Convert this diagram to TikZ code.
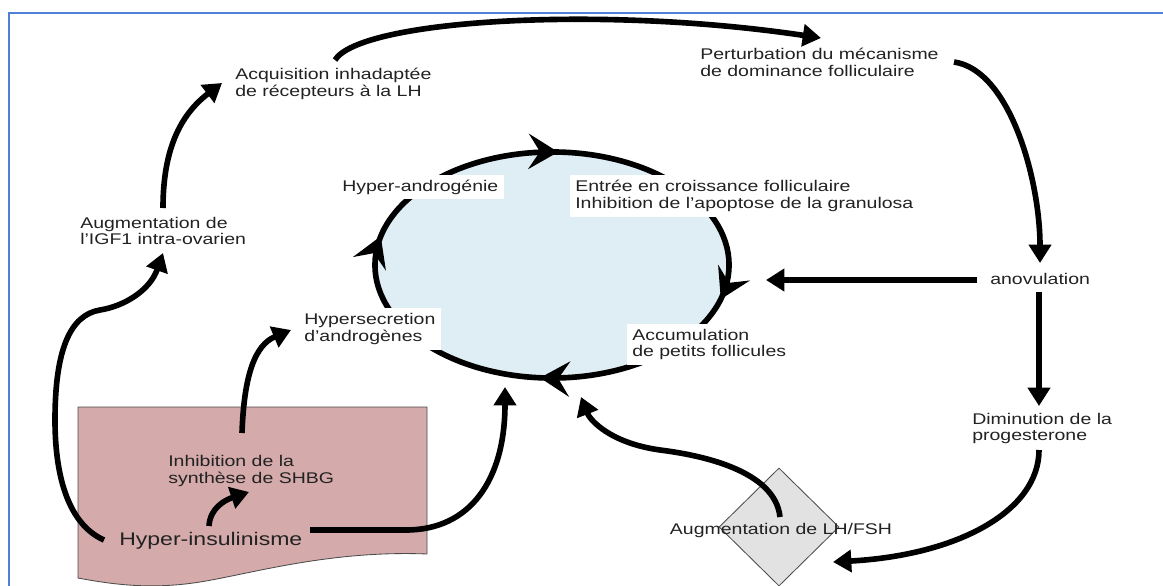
\documentclass[tikz,border=0pt]{standalone}
\usepackage{fontspec}
\setmainfont[FakeStretch=1.26]{Liberation Sans}
\usetikzlibrary{arrows.meta,decorations.markings,shapes.geometric}
\definecolor{frameblue}{RGB}{79,129,214}
\definecolor{pinkbox}{RGB}{212,170,170}
\definecolor{cyclefill}{RGB}{222,238,244}
\definecolor{diagray}{RGB}{226,226,226}
\definecolor{txt}{RGB}{34,34,34}
\newcommand{\ringtip}{\arrowreversed{Stealth[length=21pt,width=25pt,inset=8pt]}}
\begin{document}
\begin{tikzpicture}[x=0.025cm,y=-0.025cm,
  lbl/.style={inner sep=0pt, align=left, anchor=west, text=txt, font=\fontsize{11}{12}\selectfont},
  wlbl/.style={lbl, fill=white, inner xsep=4pt, inner ysep=3.5pt},
  fat/.style={line width=4pt, -{Triangle[length=13pt,width=15.5pt]}},
  ringline/.style={line width=4pt},
]
\useasboundingbox (0,0) rectangle (1163,585);
\clip (0,0) rectangle (1163,585);
\fill[white] (0,0) rectangle (1163,585);
\draw[frameblue, line width=1.4pt] (9,600) -- (9,13) -- (1180,13);

% pink document shape
\draw[draw=black!70, line width=0.6pt, fill=pinkbox] (78,407) -- (427,407) -- (427,554)
  .. controls (330,550) and (250,574) .. (200,582)
  .. controls (150,590) and (110,584) .. (78,578) -- cycle;

% diamond
\node[diamond, draw=black!70, fill=diagray, line width=0.6pt, inner sep=0pt,
  minimum width=3cm, minimum height=2.95cm] (dia) at (779,527) {};

% cycle ellipse
\draw[ringline, fill=cyclefill, postaction={decorate},
  decoration={markings,
    mark=at position 0.2433 with {\ringtip},
    mark=at position 0.468 with {\ringtip},
    mark=at position 0.737 with {\ringtip},
    mark=at position 0.9615 with {\ringtip}}]
  (552,265) ellipse [x radius=4.425cm, y radius=2.825cm];
\coordinate (cyc) at (552,265);

% labels
\node[lbl] (acq) at (235,83.5) {Acquisition inhadaptée\\de récepteurs à la LH};
\node[lbl] (pert) at (700,62) {Perturbation du mécanisme\\de dominance folliculaire};
\node[wlbl] (hand) at (336.4,187) {Hyper-androgénie};
\node[wlbl] (entree) at (569.4,196) {Entrée en croissance folliculaire\\Inhibition de l’apoptose de la granulosa};
\node[lbl] (igf) at (80,231) {Augmentation de\\l’IGF1 intra-ovarien};
\node[lbl] (ano) at (990,279) {anovulation};
\node[wlbl] (hsec) at (298.4,329) {Hypersecretion\\d’androgènes};
\node[wlbl] (accu) at (626.4,344.5) {Accumulation\\de petits follicules};
\node[lbl] (dimin) at (972,428.5) {Diminution de la\\progesterone};
\node[lbl, anchor=center] (lhfsh) at (781,530) {Augmentation de LH/FSH};
\node[lbl] (shbg) at (168,471) {Inhibition de la\\synthèse de SHBG};
\node[lbl, font=\fontsize{13}{15}\selectfont] (hins) at (119,541) {Hyper-insulinisme};

% connector end points
\coordinate (hinsL) at (104,540);
\coordinate (igfB) at (163,253);
\coordinate (igfT) at (163,208);
\coordinate (acqB) at (222,83);
\coordinate (acqT) at (335,60);
\coordinate (pertL) at (821,38);
\coordinate (pertR) at (954,62);
\coordinate (anoT) at (1040,263);
\coordinate (anoL) at (977,280);
\coordinate (cycR) at (766,280);
\coordinate (anoB) at (1039,292);
\coordinate (dimT) at (1039,406);
\coordinate (dimB) at (1039,450);
\coordinate (diaR) at (833,562);
\coordinate (diaT) at (780,517);
\coordinate (cycB2) at (581,397);
\coordinate (hinsR) at (310,530);
\coordinate (cycB1) at (505,387);
\coordinate (shbgT) at (242,433);
\coordinate (hsecL) at (291,330);
\coordinate (hinsT) at (209,526);
\coordinate (shbgB) at (249,492);

% connectors
\draw[fat] (hinsL) .. controls (70,525) and (55,480) .. (55,420)
  .. controls (55,350) and (70,315) .. (100,310)
  .. controls (125,306) and (150,290) .. (igfB);
\draw[fat] (igfT) .. controls (163,150) and (180,115) .. (acqB);
\draw[fat] (acqT) .. controls (360,20) and (600,5) .. (pertL);
\draw[fat] (pertR) .. controls (1010,70) and (1040,180) .. (anoT);
\draw[fat] (anoL) -- (cycR);
\draw[fat] (anoB) -- (dimT);
\draw[fat] (dimB) .. controls (1039,510) and (960,555) .. (diaR);
\draw[fat] (diaT) .. controls (775,470) and (700,455) .. (660,450)
  .. controls (610,443) and (590,420) .. (cycB2);
\draw[fat] (hinsR) -- (406,530) .. controls (470,530) and (505,480) .. (cycB1);
\draw[fat] (shbgT) .. controls (244,375) and (255,345) .. (hsecL);
\draw[fat] (hinsT) .. controls (210,508) and (225,500) .. (shbgB);
\end{tikzpicture}
\end{document}
